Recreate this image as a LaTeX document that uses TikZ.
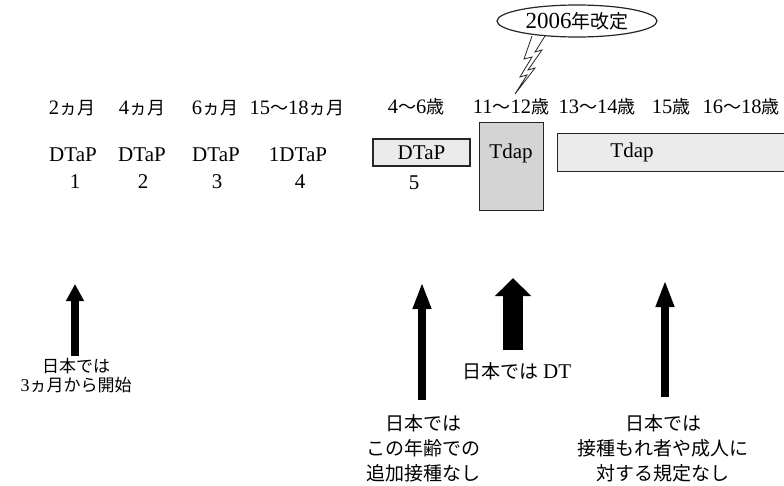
\documentclass[tikz,border=0pt]{standalone}
\usepackage{fontspec}
\setmainfont{Liberation Serif}
\newfontfamily\jpfont{Noto Sans CJK JP}
\usetikzlibrary{arrows.meta,shapes.geometric}
\newcommand\jtop[1]{{\jpfont\fontsize{18}{20}\selectfont #1}}
\newcommand\ltn[1]{{\rmfamily\fontsize{20.5}{22}\selectfont #1}}
\begin{document}
\begin{tikzpicture}[x=1pt,y=-1pt,
  font=\fontsize{21}{24}\selectfont,
  lbl/.style={inner sep=0pt},
  vbox/.style={draw=black!85, line width=1.1pt, inner sep=0pt},
  note/.style={inner sep=0pt, align=center, font=\jpfont\fontsize{19}{25}\selectfont},
  uparrow/.style={line width=8pt, -{Triangle[width=17pt,length=27pt]}},
  fatarrow/.style={line width=20pt, -{Triangle[width=35pt,length=18pt]}}]
\useasboundingbox (0,0) rectangle (784,485);

% age labels
\node[lbl] (m2)  at (72,108)  {\ltn{2}\jtop{ヵ月}};
\node[lbl] (m4)  at (142,108) {\ltn{4}\jtop{ヵ月}};
\node[lbl] (m6)  at (215,108) {\ltn{6}\jtop{ヵ月}};
\node[lbl] (m15) at (297,108) {\ltn{15}\jtop{〜}\ltn{18}\jtop{ヵ月}};
\node[lbl] (y4)  at (416,107) {\ltn{4}\jtop{〜}\ltn{6}\jtop{歳}};
\node[lbl] (y11) at (511,107) {\ltn{11}\jtop{〜}\ltn{12}\jtop{歳}};
\node[lbl] (y13) at (597,107) {\ltn{13}\jtop{〜}\ltn{14}\jtop{歳}};
\node[lbl] (y15) at (671,107) {\ltn{15}\jtop{歳}};
\node[lbl] (y16) at (741,107) {\ltn{16}\jtop{〜}\ltn{18}\jtop{歳}};

% DTaP doses
\node[lbl] (d1) at (73,155)  {DTaP};
\node[lbl] (d2) at (142,155) {DTaP};
\node[lbl] (d3) at (216,155) {DTaP};
\node[lbl] (d4) at (298,155) {1DTaP};
\node[lbl] (n1) at (75,182)  {1};
\node[lbl] (n2) at (143,182) {2};
\node[lbl] (n3) at (217,182) {3};
\node[lbl] (n4) at (300,182) {4};

% boxes
\node[vbox, fill=black!8, minimum width=97pt, minimum height=27pt] (b5) at (421.5,152.5) {DTaP};
\node[lbl] (n5) at (414,183) {5};
\node[vbox, fill=black!17, minimum width=64pt, minimum height=88pt, anchor=north west] (bt) at (479,122) {};
\node[lbl] (tt) at (511,153) {Tdap};
\node[vbox, fill=black!8, minimum width=240pt, minimum height=38pt, anchor=north west] (br) at (557,133) {};
\node[lbl] (tr) at (632,152) {Tdap};

% callout
\node[ellipse, draw=black!85, line width=1.2pt, fill=white, minimum width=160pt, minimum height=32pt, inner sep=0pt] (ell) at (577,21)
  {{\rmfamily\fontsize{23}{24}\selectfont 2006}{\jpfont\fontsize{19}{20}\selectfont 年改定}};
\draw[draw=black!85, line width=0.8pt, fill=white, line join=miter]
  (532,36) -- (524,59) -- (532,57) -- (520,77) -- (527,75) -- (515,94)
  -- (535,68) -- (528,70) -- (542,50) -- (535,52) -- (545,36);

% arrows
\coordinate (a1b) at (75,356);  \coordinate (a1t) at (75,284);
\coordinate (a2b) at (422,400); \coordinate (a2t) at (422,282);
\coordinate (a3b) at (513,350); \coordinate (a3t) at (513,278);
\coordinate (a4b) at (665,397); \coordinate (a4t) at (665,280);
\draw[line width=8pt, -{Triangle[width=17pt,length=17pt]}] (a1b) -- (a1t);
\draw[uparrow] (a2b) -- (a2t);
\draw[fatarrow] (a3b) -- (a3t);
\draw[uparrow] (a4b) -- (a4t);

% notes
\node[note, font=\jpfont\fontsize{17}{19}\selectfont] (t1) at (76,376) {日本では\\{\rmfamily\fontsize{18}{19}\selectfont 3}ヵ月から開始};
\node[note] (t3) at (517,371) {日本では {\rmfamily\fontsize{21}{24}\selectfont DT}};
\node[note] (t2) at (423,448) {日本では\\この年齢での\\追加接種なし};
\node[note] (t4) at (663,448) {日本では\\接種もれ者や成人に\\対する規定なし};
\end{tikzpicture}
\end{document}
